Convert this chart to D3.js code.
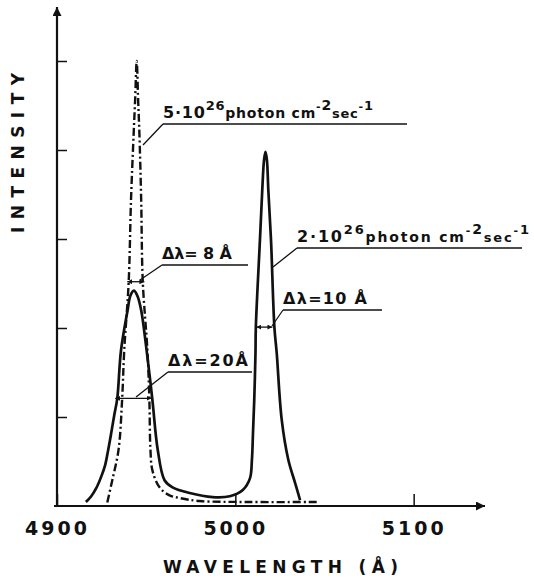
<!DOCTYPE html>
<html>
<head>
<meta charset="utf-8" />
<title>Intensity vs wavelength</title>
<style>
  body { margin: 0; background: #fff; }
  text { font-family: "DejaVu Sans", sans-serif; font-weight: bold; fill: #111; }
</style>
</head>
<body>
<div id="chart"></div>
<script src="https://d3js.org/d3.v7.min.js"></script>
<script>
// dash-dot line: narrow line (5e26 photon cm-2 sec-1)
const dashWl  = [4928.2, 4931.0, 4934.5, 4936.5, 4937.7, 4940.2, 4941.5, 4943.0, 4943.8, 4944.7,
                 4945.5, 4946.2, 4947.2, 4948.1, 4950.7, 4951.8, 4952.4, 4953.5, 4957.5, 4963.1,
                 4968.7, 4980.0, 5008.0, 5046.0];
const dashInt = [0.04, 0.29, 0.63, 1.19, 1.75, 2.52, 3.44, 4.19, 4.56, 5.0,
                 4.56, 4.19, 3.44, 2.52, 1.75, 1.19, 0.63, 0.40, 0.21, 0.12,
                 0.09, 0.056, 0.045, 0.045];

// solid line: two peaks (4943 A and 5017 A)
const solidWl  = [4916.2, 4919.2, 4922.0, 4924.8, 4927.0, 4928.7, 4930.4, 4932.1, 4933.8, 4935.9,
                  4939.6, 4941.1, 4943.1, 4945.1, 4947.2, 4950.0, 4953.4, 4956.5, 4960.3, 4964.8,
                  4974.4, 4987.3, 4996.9, 5004.2, 5008.2, 5009.3, 5009.9, 5010.6, 5011.3, 5011.5,
                  5013.8, 5015.1, 5016.1, 5016.9, 5017.7, 5018.5, 5020.0, 5021.9, 5023.2, 5026.0,
                  5029.7, 5033.5, 5036.3];
const solidInt = [0.045, 0.11, 0.20, 0.33, 0.46, 0.63, 0.82, 1.02, 1.21, 1.75,
                  2.20, 2.36, 2.42, 2.36, 2.20, 1.79, 1.21, 0.63, 0.29, 0.21,
                  0.146, 0.10, 0.11, 0.18, 0.31, 0.52, 0.82, 1.19, 1.72, 2.01,
                  2.99, 3.55, 3.89, 3.98, 3.89, 3.55, 2.99, 2.01, 1.72, 0.97,
                  0.52, 0.26, 0.067];

// full widths at half maximum
const fwhmLabels = ['Δλ= 8 Å', 'Δλ=20Å', 'Δλ=10 Å'];
const fwhmLevel  = [2.52, 1.21, 2.01];
const fwhmFrom   = [4939.4, 4932.7, 5011.8];
const fwhmTo     = [4949.0, 4953.0, 5020.8];

const xTicks = [4900, 5000, 5100];
const yTicks = [1, 2, 3, 4, 5];

const width = 534, height = 579;
const x = d3.scaleLinear().domain([4900, 5140]).range([57, 485]);
const y = d3.scaleLinear().domain([0, 5]).range([506, 61]);

const svg = d3.select('#chart').append('svg')
  .attr('width', width)
  .attr('height', height);

const defs = svg.append('defs');
['arrowUp', 'arrowRight'].forEach(id => {
  defs.append('marker')
    .attr('id', id)
    .attr('viewBox', '0 0 10 10')
    .attr('refX', 10).attr('refY', 5)
    .attr('markerWidth', 12).attr('markerHeight', 9)
    .attr('markerUnits', 'userSpaceOnUse')
    .attr('orient', 'auto')
    .append('path').attr('d', 'M0,0 L10,5 L0,10 Z').attr('fill', '#111');
});
defs.append('marker')
  .attr('id', 'tip')
  .attr('viewBox', '0 0 10 10')
  .attr('refX', 10).attr('refY', 5)
  .attr('markerWidth', 5).attr('markerHeight', 5)
  .attr('markerUnits', 'userSpaceOnUse')
  .attr('orient', 'auto-start-reverse')
  .append('path').attr('d', 'M0,0 L10,5 L0,10 Z').attr('fill', '#111');

// axes
const xAxis = svg.append('g')
  .attr('transform', `translate(0,${y(0)})`)
  .call(d3.axisBottom(x).tickValues(xTicks).tickSizeInner(-12).tickSizeOuter(0).tickPadding(11)
    .tickFormat(d3.format('d')));
xAxis.select('.domain').remove();
xAxis.selectAll('line').attr('stroke', '#111').attr('stroke-width', 1.5);
xAxis.selectAll('text')
  .attr('font-size', 19).attr('font-family', '"DejaVu Sans", sans-serif').attr('font-weight', 'bold')
  .attr('fill', '#111').attr('letter-spacing', 3).attr('dy', '0.95em');

const yAxis = svg.append('g')
  .attr('transform', `translate(${x(4900)},0)`)
  .call(d3.axisLeft(y).tickValues(yTicks).tickSizeInner(-10).tickSizeOuter(0).tickFormat(''));
yAxis.select('.domain').remove();
yAxis.selectAll('line').attr('stroke', '#111').attr('stroke-width', 1.5);

svg.append('line')
  .attr('x1', x(4900) - 3).attr('y1', y(0)).attr('x2', 485).attr('y2', y(0))
  .attr('stroke', '#111').attr('stroke-width', 2.2).attr('marker-end', 'url(#arrowRight)');
svg.append('line')
  .attr('x1', x(4900)).attr('y1', y(0) + 1).attr('x2', x(4900)).attr('y2', 7)
  .attr('stroke', '#111').attr('stroke-width', 2.2).attr('marker-end', 'url(#arrowUp)');

// curves
const line = d3.line().x(d => x(d[0])).y(d => y(d[1])).curve(d3.curveCatmullRom.alpha(0.5));

svg.append('path')
  .datum(d3.zip(solidWl, solidInt))
  .attr('d', line)
  .attr('fill', 'none').attr('stroke', '#111').attr('stroke-width', 2.7);

svg.append('path')
  .datum(d3.zip(dashWl, dashInt))
  .attr('d', line)
  .attr('fill', 'none').attr('stroke', '#111').attr('stroke-width', 2.4)
  .attr('stroke-dasharray', '8,3,2,3');

// FWHM arrows
fwhmLabels.forEach((t, i) => {
  svg.append('line')
    .attr('x1', x(fwhmFrom[i])).attr('x2', x(fwhmTo[i]))
    .attr('y1', y(fwhmLevel[i])).attr('y2', y(fwhmLevel[i]))
    .attr('stroke', '#111').attr('stroke-width', 1.3)
    .attr('marker-start', 'url(#tip)').attr('marker-end', 'url(#tip)');
});

// annotation labels with underline and leader
function callout(tx, ty, len, ux2, lx, ly, build) {
  const g = svg.append('g');
  const txt = g.append('text').attr('x', tx).attr('y', ty).attr('font-size', 16);
  build(txt);
  if (len) txt.attr('textLength', len).attr('lengthAdjust', 'spacing');
  g.append('line').attr('x1', tx).attr('y1', ty + 6).attr('x2', ux2).attr('y2', ty + 6)
    .attr('stroke', '#111').attr('stroke-width', 1.3);
  g.append('line').attr('x1', tx).attr('y1', ty + 6).attr('x2', lx).attr('y2', ly)
    .attr('stroke', '#111').attr('stroke-width', 1.3);
}

function photonText(lead) {
  return txt => {
    txt.append('tspan').text(lead);
    txt.append('tspan').attr('font-size', 13).attr('dy', -8).text('26');
    txt.append('tspan').attr('font-size', 14).attr('dy', 8).text('photon cm');
    txt.append('tspan').attr('font-size', 11).attr('dy', -8).text('-');
    txt.append('tspan').attr('font-size', 14).text('2');
    txt.append('tspan').attr('font-size', 13).attr('dy', 8).text('sec');
    txt.append('tspan').attr('font-size', 11).attr('dy', -8).text('-');
    txt.append('tspan').attr('font-size', 13).text('1');
  };
}

callout(163, 118, 210, 407, 143, 145, photonText('5·10'));
callout(297, 242, 232, 522, 273, 267, photonText('2·10'));
callout(162, 259, 70, 248, 140, 280, txt => txt.text(fwhmLabels[0]));
callout(168, 366, 80, 252, 136, 397, txt => txt.text(fwhmLabels[1]));
callout(283, 304, 84, 382, 272, 326, txt => txt.text(fwhmLabels[2]));

// axis titles
svg.append('text')
  .attr('transform', 'translate(24,153) rotate(-90)')
  .attr('text-anchor', 'middle')
  .attr('font-size', 17)
  .attr('textLength', 160).attr('lengthAdjust', 'spacing')
  .text('INTENSITY');

svg.append('text')
  .attr('x', 163).attr('y', 573)
  .attr('font-size', 17)
  .attr('textLength', 235).attr('lengthAdjust', 'spacing')
  .text('WAVELENGTH (Å)');
</script>
</body>
</html>
